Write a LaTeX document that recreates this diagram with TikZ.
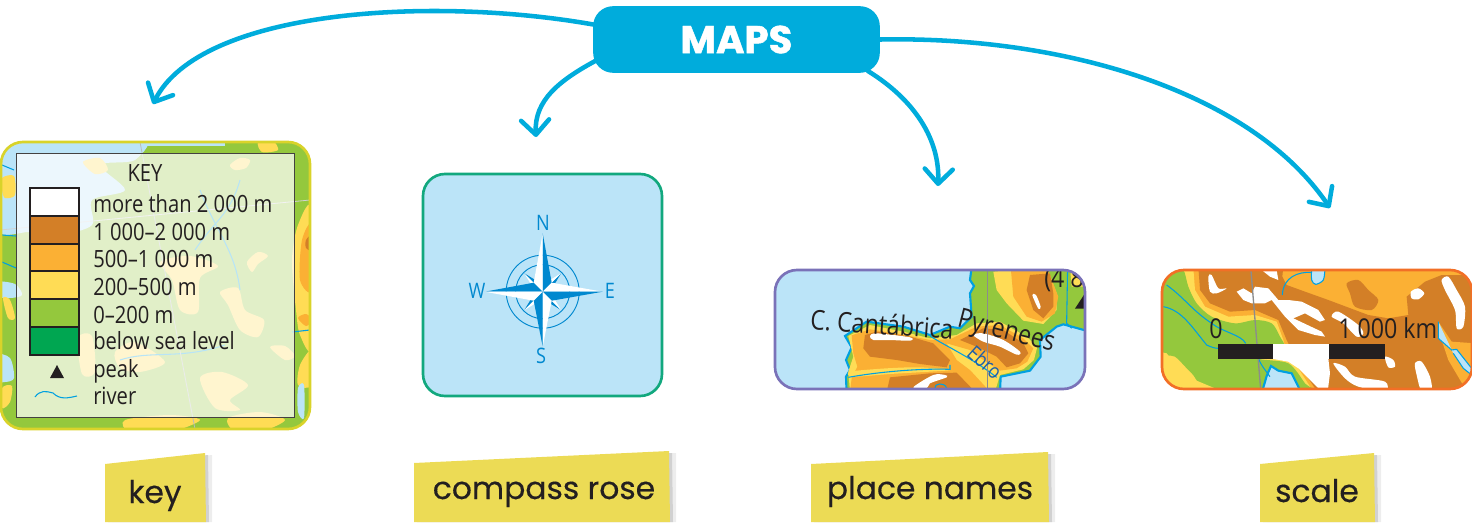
\documentclass[tikz,border=0pt]{standalone}
\usepackage{fontspec}
\usepackage{xcolor}
\usetikzlibrary{arrows.meta}
\newfontfamily\labelfont[FakeBold=0.35]{Poppins}
\newfontfamily\titlefont[FakeBold=1.2]{Poppins}
\newfontfamily\mapfont[FakeStretch=0.85]{Open Sans}
\definecolor{mapsblue}{RGB}{0, 172, 220}
\definecolor{sea}{RGB}{187, 228, 248}
\definecolor{water}{RGB}{0, 160, 224}
\definecolor{lowgreen}{RGB}{148, 200, 61}
\definecolor{deepgreen}{RGB}{0, 166, 81}
\definecolor{hillyellow}{RGB}{255, 220, 85}
\definecolor{midorange}{RGB}{251, 176, 52}
\definecolor{highbrown}{RGB}{211, 127, 39}
\definecolor{tagyellow}{RGB}{236, 219, 85}
\definecolor{inkdark}{RGB}{35, 31, 32}
\definecolor{rosecolor}{RGB}{0, 136, 207}
\definecolor{ebroblue}{RGB}{30, 95, 170}
\definecolor{meridian}{RGB}{140, 140, 140}
\definecolor{keyframe}{RGB}{217, 211, 42}
\definecolor{roseframe}{RGB}{18, 168, 126}
\definecolor{namesframe}{RGB}{122, 114, 184}
\definecolor{scaleframe}{RGB}{242, 111, 38}
\tikzset{
  mapsarrow/.style={draw=mapsblue,line width=3.4pt,line cap=round,shorten <=-3pt,-{Straight Barb[length=11pt,width=21pt,round]}},
  maptext/.style={text=inkdark,font=\mapfont\fontsize{17.8}{17.8}\selectfont,inner sep=0pt},
  placetext/.style={text=inkdark,font=\mapfont\fontsize{20.5}{20.5}\selectfont,inner sep=0pt},
  keyrow/.style={maptext,anchor=base west},
  rosetext/.style={text=rosecolor,font=\mapfont\fontsize{16}{16}\selectfont,inner sep=0pt},
  swatch/.style={draw=inkdark,line width=0.9pt},
  tagtext/.style={text=inkdark,font=\labelfont\fontsize{23.5}{24}\selectfont,inner sep=0pt,anchor=base},
  tagpaper/.style={fill=tagyellow},
  river/.style={draw=water,line width=0.8pt},
  coast/.style={draw=water,line width=1.6pt},
  frame/.style={line width=2pt,rounded corners=16.5pt},
}

\begin{document}
\begin{tikzpicture}[x=0.75pt,y=0.75pt,yscale=-1,xscale=1]
\useasboundingbox (0,0) rectangle (1472,522);

% Title
\node [fill=mapsblue,rounded corners=15pt,minimum width=215pt,minimum height=50pt,inner sep=0pt,text=white,font=\titlefont\bfseries\fontsize{29}{29}\selectfont] (maps) at (736.5,39.5) {MAPS};

% Arrow ends
\coordinate (keytip) at (153,104);
\coordinate (rosetip) at (536,137);
\coordinate (namestip) at (938,186);
\coordinate (scaletip) at (1330,208);

% Arrows
\draw [mapsarrow] (maps.174) .. controls (430,-5) and (200,10) .. (keytip);
\draw [mapsarrow] (maps.189) .. controls (560,80) and (534,100) .. (rosetip);
\draw [mapsarrow] (maps.-14.3) .. controls (915,100) and (940,140) .. (namestip);
\draw [mapsarrow] (maps.east) .. controls (1060,35) and (1250,90) .. (scaletip);

% Key panel
\begin{scope}
\clip [rounded corners=16.5pt] (1,142) rectangle (310,429);
\fill [lowgreen] (0,140) rectangle (312,431);
\fill [sea] plot [smooth cycle] coordinates {(-5,135) (140,135) (135,160) (100,165) (125,190) (92,200) (92,225) (60,235) (30,232) (-5,228)};
\fill [sea] plot [smooth cycle] coordinates {(-5,282) (15,284) (22,295) (10,298) (-5,296)};
\fill [sea] plot [smooth cycle] coordinates {(-5,355) (10,358) (14,378) (5,382) (-5,380)};
\fill [sea] (130,136) rectangle (225,146);
\fill [hillyellow] plot [smooth cycle] coordinates {(2,178) (14,176) (15,195) (5,198) (2,190)};
\fill [hillyellow] plot [smooth cycle] coordinates {(3,298) (10,300) (15,318) (8,318)};
\fill [hillyellow] plot [smooth cycle] coordinates {(2,388) (12,386) (10,402) (2,408)};
\fill [hillyellow] plot [smooth cycle] coordinates {(83,162) (100,158) (108,170) (95,174)};
\fill [hillyellow] plot [smooth cycle] coordinates {(230,165) (240,158) (250,160) (246,168) (235,170)};
\fill [hillyellow] plot [smooth cycle] coordinates {(247,262) (258,252) (268,256) (258,264) (252,272)};
\fill [hillyellow] plot [smooth cycle] coordinates {(160,262) (190,256) (218,266) (200,278) (198,312) (180,310) (172,280)};
\fill [hillyellow] plot [smooth cycle] coordinates {(220,292) (238,288) (245,310) (264,320) (258,337) (240,330) (228,305)};
\fill [hillyellow] plot [smooth cycle] coordinates {(200,378) (222,372) (248,385) (230,400) (240,410) (215,408)};
\fill [hillyellow] plot [smooth cycle] coordinates {(78,338) (92,336) (95,372) (82,374)};
\fill [hillyellow] plot [smooth cycle] coordinates {(115,352) (135,342) (165,362) (140,372) (120,368)};
\fill [hillyellow] plot [smooth cycle] coordinates {(270,347) (285,346) (295,356) (285,360)};
\fill [hillyellow] plot [smooth cycle] coordinates {(125,420) (170,415) (200,420) (170,432) (130,432)};
\fill [hillyellow] plot [smooth cycle] coordinates {(228,418) (260,412) (285,420) (260,432) (235,432)};
\fill [hillyellow] plot [smooth cycle] coordinates {(258,142) (272,140) (278,150) (262,152)};
\fill [hillyellow] plot [smooth cycle] coordinates {(312,210) (298,225) (292,260) (296,310) (300,335) (312,345)};
\fill [hillyellow] plot [smooth cycle] coordinates {(312,350) (300,365) (298,385) (312,385)};
\fill [midorange] plot [smooth cycle] coordinates {(312,225) (302,240) (300,280) (312,290)};
\fill [midorange] plot [smooth cycle] coordinates {(298,318) (306,314) (312,320) (306,326)};
\fill [highbrown] plot [smooth cycle] coordinates {(312,235) (306,240) (306,248) (312,250)};
\fill [sea] plot [smooth cycle] coordinates {(298,388) (304,385) (304,418) (298,412)};
\draw [river] (200,190) .. controls (215,230) and (235,250) .. (240,290);
\draw [river] (240,180) .. controls (230,215) and (215,220) .. (195,250);
\draw [river] (120,360) .. controls (150,350) and (180,360) .. (225,345);
\draw [river] (2,165) -- (14,170);
\draw [river] (2,235) -- (16,236);
\draw [river] (2,262) -- (16,268);
\draw [river] (292,332) -- (310,330);
\draw [draw=meridian!60,line width=0.6pt] (140,142) -- (195,429);
\draw [draw=meridian!40,line width=0.6pt] (0,230) -- (310,200);
\end{scope}
% Key box
\draw [fill=white,fill opacity=0.72,draw=inkdark!85,line width=0.7pt] (16,153) rectangle (294,417);
\draw [frame,draw=keyframe] (1,142) rectangle (310,429);
\node [maptext,anchor=base] (keytitle) at (145,181) {KEY};
\draw [swatch,fill=white] (30,188) rectangle (79,216);
\draw [swatch,fill=highbrown] (30,216) rectangle (79,244);
\draw [swatch,fill=midorange] (30,244) rectangle (79,271);
\draw [swatch,fill=hillyellow] (30,271) rectangle (79,299);
\draw [swatch,fill=lowgreen] (30,299) rectangle (79,327);
\draw [swatch,fill=deepgreen] (30,327) rectangle (79,355);
\fill [inkdark] (50,378) -- (64,378) -- (57,365) -- cycle;
\draw [river] (35,397) .. controls (40,390) and (46,391) .. (53,393) .. controls (60,400) and (68,398) .. (77,396);
\node [keyrow] (row1) at (93,212) {more than 2 000 m};
\node [keyrow] (row2) at (93,240) {1 000–2 000 m};
\node [keyrow] (row3) at (93,267) {500–1 000 m};
\node [keyrow] (row4) at (93,295) {200–500 m};
\node [keyrow] (row5) at (93,323) {0–200 m};
\node [keyrow] (row6) at (93,349) {below sea level};
\node [keyrow] (row7) at (93,377) {peak};
\node [keyrow] (row8) at (93,404) {river};

% Compass panel
\draw [frame,draw=roseframe,fill=sea] (423,174) rectangle (662,396);
\begin{scope}[shift={(542.7,291.7)}]
\draw [rosecolor,line width=0.7pt] (0,0) circle (36.5);
\draw [rosecolor,line width=0.7pt] (0,0) circle (27);
\foreach \ang in {45,135,225,315}{
  \fill [rosecolor] (0,0) -- (\ang+30:9) -- (\ang:26) -- cycle;
  \fill [white] (0,0) -- (\ang-30:9) -- (\ang:26) -- cycle;
}
\fill [rosecolor] (0,0) -- (0,-58.4) -- (9,-9) -- cycle;
\fill [white] (0,0) -- (0,-58.4) -- (-9,-9) -- cycle;
\fill [white] (0,0) -- (60,0) -- (9,-9) -- cycle;
\fill [rosecolor] (0,0) -- (60,0) -- (9,9) -- cycle;
\fill [white] (0,0) -- (0,55) -- (9,9) -- cycle;
\fill [rosecolor] (0,0) -- (0,55) -- (-9,9) -- cycle;
\fill [rosecolor] (0,0) -- (-58,0) -- (-9,-9) -- cycle;
\fill [white] (0,0) -- (-58,0) -- (-9,9) -- cycle;
\end{scope}
\node [rosetext] (north) at (543,223) {N};
\node [rosetext] (south) at (541,356) {S};
\node [rosetext] (west) at (477,291) {W};
\node [rosetext] (east) at (610,291) {E};

% Place names panel, outlines taken at 3x
\begin{scope}
\clip [rounded corners=16.5pt] (775,270) rectangle (1085,389);
\fill [sea] (770,265) rectangle (1090,394);
\begin{scope}[shift={(770,260)},scale=0.3333]
\path [fill=lowgreen,coast] plot coordinates {(605,20) (600,60) (612,78) (600,100) (605,170) (570,205) (540,200) (480,225) (400,200) (290,185) (225,228) (245,262) (228,300) (240,330) (228,350) (230,400) (690,400) (692,350) (780,332) (812,290) (810,240) (860,200) (880,193) (960,215) (960,20)};
\fill [hillyellow] plot coordinates {(235,228) (300,195) (400,215) (480,235) (560,225) (620,190) (690,185) (770,230) (802,260) (792,300) (760,328) (690,345) (675,395) (240,395) (235,335) (250,290)};
\fill [midorange] plot coordinates {(245,226) (300,208) (400,224) (480,240) (540,238) (620,200) (690,195) (760,235) (790,265) (772,305) (740,325) (690,332) (640,300) (600,270) (530,250) (560,300) (600,330) (660,395) (240,395) (245,355) (262,320) (250,280)};
\fill [highbrown] plot coordinates {(285,225) (320,215) (420,230) (490,250) (540,300) (530,322) (450,312) (380,300) (300,290) (280,265)};
\fill [highbrown] plot coordinates {(570,240) (640,205) (700,210) (760,250) (775,280) (750,310) (710,322) (680,290) (620,260)};
\fill [highbrown] plot coordinates {(360,352) (480,340) (560,338) (615,395) (350,395)};
\fill [hillyellow] plot [smooth cycle] coordinates {(240,335) (350,325) (450,322) (540,330) (480,335) (360,342) (250,350)};
\fill [hillyellow] plot coordinates {(670,35) (830,20) (860,100) (860,150) (820,192) (760,182) (710,130) (680,90)};
\fill [midorange] plot coordinates {(722,20) (830,20) (865,110) (855,160) (815,185) (770,170) (730,110)};
\fill [highbrown] plot coordinates {(780,45) (840,40) (850,100) (850,140) (820,175) (790,150) (770,90)};
\fill [hillyellow] plot coordinates {(900,20) (960,20) (960,80) (905,80)};
\fill [white] plot [smooth cycle] coordinates {(787,105) (798,105) (812,140) (805,146)};
\fill [white] plot [smooth cycle] coordinates {(300,228) (320,220) (420,232) (420,242) (360,240) (310,240)};
\fill [white] plot [smooth cycle] coordinates {(610,225) (640,220) (700,240) (750,275) (740,284) (690,260) (640,245)};
\fill [white] plot [smooth cycle] coordinates {(430,382) (490,345) (525,345) (530,352) (480,370) (470,385)};
\path [river] (480,228) .. controls (530,260) and (600,290) .. (680,352);
\path [river] (235,352) .. controls (330,335) and (450,325) .. (540,328) -- (540,315);
\path [river] (893,20) -- (890,190) -- (905,205);
\path [river] (495,385) .. controls (490,370) and (525,365) .. (530,385);
\draw [meridian,line width=1pt] (653,20) -- (653,400);
\fill [inkdark] (915,146) -- (960,146) -- (945,100) -- cycle;
\end{scope}
\node [placetext] (peakheight) at (1064,280) {(4 8};
\end{scope}
\draw [frame,draw=namesframe] (775,270) rectangle (1085,389);
\node [placetext,rotate=-4] (cantabrica) at (882,324) {C. Cantábrica};
\node [placetext,rotate=-14.5] (pyrenees) at (1006,333) {Pyrenees};
\node [placetext,rotate=-42,text=ebroblue,font=\mapfont\fontsize{15.5}{15.5}\selectfont] (ebro) at (985,362) {Ebro};

% Scale panel, outlines taken at 3x
\begin{scope}
\clip [rounded corners=16.5pt] (1162,270) rectangle (1472,389);
\fill [midorange] (1158,265) rectangle (1476,394);
\begin{scope}[shift={(1155,260)},scale=0.3333]
\fill [highbrown] plot coordinates {(130,20) (385,20) (382,50) (395,75) (450,95) (520,120) (600,150) (640,165) (700,175) (760,165) (755,110) (810,65) (860,45) (960,45) (960,400) (490,400) (430,310) (395,240) (370,180) (300,150) (225,155) (165,130) (135,90)};
\fill [midorange] plot coordinates {(850,185) (890,245) (960,250) (960,400) (930,385) (880,300) (860,240)};
\fill [highbrown] plot [smooth cycle] coordinates {(575,70) (610,60) (640,90) (670,120) (650,150) (600,140) (585,100)};
\fill [hillyellow] plot coordinates {(20,90) (50,30) (115,25) (120,90) (150,140) (220,170) (300,165) (365,185) (385,240) (395,280) (420,310) (475,395) (20,395)};
\fill [lowgreen] plot [smooth cycle] coordinates {(10,85) (55,35) (85,30) (100,80) (125,130) (170,170) (240,190) (300,180) (350,190) (375,230) (385,262) (310,295) (400,310) (450,370) (470,400) (180,400) (110,340) (60,290) (10,270)};
\fill [hillyellow] plot coordinates {(10,275) (35,280) (70,325) (120,360) (180,385) (180,400) (10,400)};
\fill [white] plot [smooth cycle] coordinates {(160,50) (170,45) (190,85) (215,85) (185,100) (165,95)};
\fill [white] plot coordinates {(245,95) (265,85) (290,100) (300,80) (340,85) (370,120) (400,120) (440,125) (490,150) (510,180) (495,185) (450,160) (415,175) (500,215) (510,230) (480,225) (430,210) (390,170) (350,120) (330,130) (290,130) (265,120)};
\fill [white] plot coordinates {(320,30) (365,30) (370,60) (345,50)};
\fill [white] plot [smooth cycle] coordinates {(530,170) (550,155) (610,195) (625,220) (605,230) (565,190)};
\fill [white] plot coordinates {(355,297) (520,295) (525,340) (518,395) (500,395) (430,325) (400,305)};
\fill [white] plot [smooth cycle] coordinates {(535,310) (570,320) (600,350) (690,365) (690,395) (610,380) (570,355)};
\fill [white] plot [smooth cycle] coordinates {(690,290) (715,300) (720,320) (700,322)};
\fill [white] plot [smooth cycle] coordinates {(780,310) (800,305) (825,350) (830,395) (800,395) (785,345)};
\fill [white] plot [smooth cycle] coordinates {(768,95) (790,85) (808,100) (790,118) (770,115)};
\fill [white] plot [smooth cycle] coordinates {(860,60) (880,50) (905,90) (930,140) (925,200) (905,205) (900,150) (870,90)};
\path [fill=sea,coast] plot coordinates {(320,400) (335,348) (348,318) (370,332) (410,340) (440,400)};
\path [fill=sea,river] plot [smooth] coordinates {(470,25) (470,60) (482,73) (505,60) (510,25)};
\path [river] (470,37) .. controls (430,35) and (385,50) .. (382,105);
\path [fill=sea,river] plot coordinates {(850,185) (850,235) (890,270) (905,268) (950,325) (950,345) (925,325) (895,280)};
\path [river] (35,75) .. controls (90,115) and (110,150) .. (170,190) .. controls (200,215) and (260,225) .. (272,250);
\path [river] (25,140) .. controls (80,150) and (110,200) .. (155,255) .. controls (170,262) and (180,265) .. (190,265);
\path [river] (310,295) .. controls (320,320) and (335,335) .. (345,350);
\draw [meridian,line width=1pt] (287,20) -- (318,400);
\end{scope}
\end{scope}
\draw [frame,draw=scaleframe] (1162,270) rectangle (1472,389);
\fill [inkdark] (1218,344) rectangle (1273,359);
\fill [white] (1273,344) rectangle (1329,359);
\fill [inkdark] (1329,344) rectangle (1385,359);
\node [placetext,anchor=base] (zero) at (1216,338) {0};
\node [placetext,anchor=base west] (kilo) at (1338,338) {1 000 km};

% Tags
\fill [black!7] (112,466) -- (212,455) -- (212,522) -- (112,522) -- cycle;
\fill [black!18] (108,466) -- (208,455) -- (209,522) -- (108,522) -- cycle;
\fill [tagpaper] (105,464) -- (205,453) -- (206,522) -- (105,522) -- cycle;
\node [tagtext] (key) at (155,503) {key};
\fill [black!7] (421,465) -- (676,453) -- (676,522) -- (421,522) -- cycle;
\fill [black!18] (417,465) -- (672,453) -- (673,522) -- (417,522) -- cycle;
\fill [tagpaper] (414,463) -- (669,451) -- (670,522) -- (414,522) -- cycle;
\node [tagtext] (compass) at (544,499) {compass rose};
\fill [black!7] (818,466) -- (1055,454) -- (1055,522) -- (818,522) -- cycle;
\fill [black!18] (814,466) -- (1051,454) -- (1052,522) -- (814,522) -- cycle;
\fill [tagpaper] (811,464) -- (1048,452) -- (1049,522) -- (811,522) -- cycle;
\node [tagtext] (names) at (930,499) {place names};
\fill [black!7] (1267,466) -- (1381,455) -- (1381,522) -- (1267,522) -- cycle;
\fill [black!18] (1263,466) -- (1377,455) -- (1378,522) -- (1263,522) -- cycle;
\fill [tagpaper] (1260,464) -- (1374,453) -- (1375,522) -- (1260,522) -- cycle;
\node [tagtext] (scale) at (1317,502) {scale};
\end{tikzpicture}
\end{document}
